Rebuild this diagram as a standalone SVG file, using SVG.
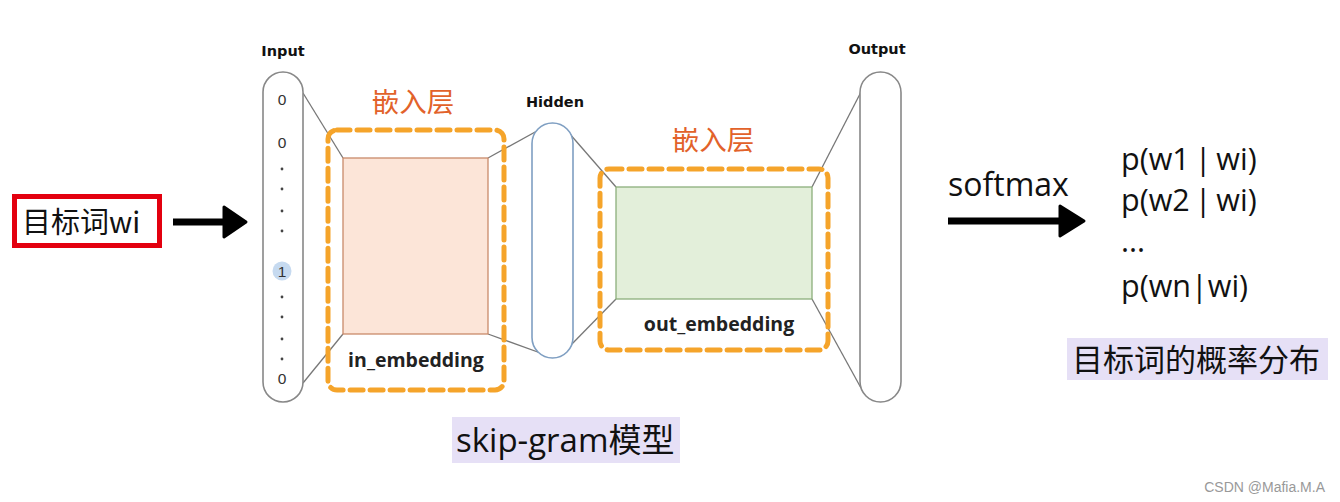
<svg xmlns="http://www.w3.org/2000/svg" width="1340" height="502" viewBox="0 0 1340 502">
<style>
.lbl{font-family:"DejaVu Sans",Verdana,sans-serif;font-weight:bold;font-size:14.5px;fill:#111;text-anchor:middle}
.num{font-family:"Liberation Sans",Arial,sans-serif;font-size:15.5px;fill:#333;text-anchor:middle}
.dot{fill:#444}
.cap{fill:#fff;stroke:#888;stroke-width:1.6}
.dash{fill:none;stroke:#f5a42a;stroke-width:5;stroke-dasharray:13 7;stroke-linecap:round}
.cn{font-family:"Noto Sans CJK SC","Noto Sans",sans-serif;font-size:27.5px;fill:#e2622a;text-anchor:middle}
.emb{font-family:"Open Sans","Noto Sans",sans-serif;font-weight:bold;font-size:19.5px;fill:#222;text-anchor:middle}
.big{font-family:"Open Sans","Noto Sans CJK SC",sans-serif;font-size:30.5px;fill:#111}
.pr{word-spacing:-3px}
.conn{stroke:#777;stroke-width:1.3;fill:none}
.tag{fill:#e6e0f6}
</style>
<rect width="1340" height="502" fill="#fff"/>

<g id="target-word">
<rect x="14.5" y="196.5" width="145" height="49" fill="#fff" stroke="#e3000f" stroke-width="5"/>
<text x="22" y="233" style="font-family:'Noto Sans CJK SC',sans-serif;font-size:29px;fill:#111">目标词wi</text>
</g>

<g id="connectors">
<line x1="173" y1="222" x2="228" y2="222" stroke="#000" stroke-width="7"/>
<path d="M224 207 L246 222 L224 237 Z" fill="#000" stroke="#000" stroke-width="3" stroke-linejoin="round"/>
<line x1="948" y1="221" x2="1064" y2="221" stroke="#000" stroke-width="7"/>
<path d="M1060 206 L1084 221 L1060 236 Z" fill="#000" stroke="#000" stroke-width="3" stroke-linejoin="round"/>
<line class="conn" x1="303" y1="93" x2="343" y2="158"/>
<line class="conn" x1="303" y1="383" x2="343" y2="334"/>
<line class="conn" x1="488" y1="158" x2="546" y2="126"/>
<line class="conn" x1="488" y1="334" x2="546" y2="355"/>
<line class="conn" x1="569" y1="133" x2="616" y2="187"/>
<line class="conn" x1="569" y1="347" x2="616" y2="299"/>
<line class="conn" x1="812" y1="187" x2="861" y2="92"/>
<line class="conn" x1="812" y1="299" x2="861" y2="388"/>
</g>

<g id="input">
<text class="lbl" x="283" y="56">Input</text>
<rect class="cap" x="263" y="72" width="40" height="330" rx="20"/>
<circle cx="282" cy="271" r="9.5" fill="#c6daf0"/>
<text class="num" x="282" y="105">0</text>
<text class="num" x="282" y="148">0</text>
<circle class="dot" cx="282" cy="169" r="1.4"/>
<circle class="dot" cx="282" cy="189" r="1.4"/>
<circle class="dot" cx="282" cy="211" r="1.4"/>
<circle class="dot" cx="282" cy="231" r="1.4"/>
<text class="num" x="282" y="277">1</text>
<circle class="dot" cx="282" cy="297" r="1.4"/>
<circle class="dot" cx="282" cy="317" r="1.4"/>
<circle class="dot" cx="282" cy="339" r="1.4"/>
<circle class="dot" cx="282" cy="359" r="1.4"/>
<text class="num" x="282" y="384">0</text>
</g>

<g id="in-embedding">
<text class="cn" x="413" y="112">嵌入层</text>
<rect class="dash" x="328" y="130" width="176" height="260" rx="9"/>
<rect x="343" y="158" width="145" height="176" fill="#fce5d8" stroke="#c98a6a" stroke-width="1.3"/>
<text class="emb" x="416" y="367">in_embedding</text>
</g>

<g id="hidden">
<text class="lbl" x="555" y="107">Hidden</text>
<rect x="532" y="123" width="41" height="235" rx="20.5" fill="#fff" stroke="#7f9fc2" stroke-width="1.6"/>
</g>

<g id="out-embedding">
<text class="cn" x="713" y="150">嵌入层</text>
<rect class="dash" x="600" y="169" width="228" height="181" rx="9"/>
<rect x="616" y="187" width="196" height="112" fill="#e3efda" stroke="#8cae7c" stroke-width="1.3"/>
<text class="emb" x="719" y="331">out_embedding</text>
</g>

<g id="output">
<text class="lbl" x="877" y="54">Output</text>
<rect class="cap" x="860" y="72" width="41" height="330" rx="20.5"/>
</g>

<g id="softmax">
<text class="big" x="948" y="196" style="font-size:32px">softmax</text>
</g>

<g id="probs">
<text class="big pr" x="1121" y="170">p(w1 | wi)</text>
<text class="big pr" x="1121" y="211">p(w2 | wi)</text>
<text class="big" x="1121" y="252">...</text>
<text class="big" x="1121" y="297">p(wn|wi)</text>
</g>

<g id="prob-dist">
<rect class="tag" x="1067" y="338" width="261" height="42"/>
<text x="1072" y="371" style="font-family:'Noto Sans CJK SC',sans-serif;font-size:31px;fill:#111">目标词的概率分布</text>
</g>

<g id="model-name">
<rect class="tag" x="452" y="417" width="228" height="46"/>
<text class="big" x="456" y="452" style="font-size:33px">skip-gram模型</text>
</g>

<text x="1325" y="492" text-anchor="end" style="font-family:'Liberation Sans',Arial,sans-serif;font-size:14px;fill:#999">CSDN @Mafia.M.A</text>
</svg>
